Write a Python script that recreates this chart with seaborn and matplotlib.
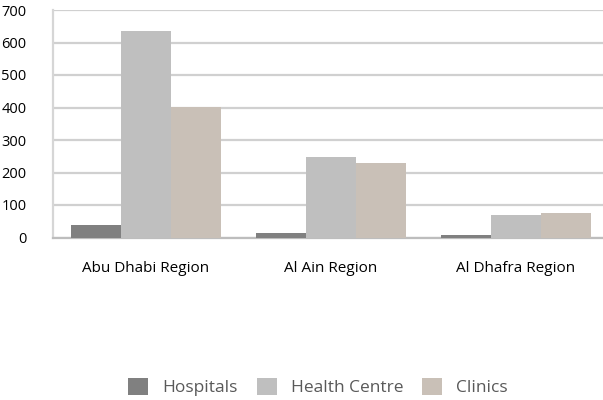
import matplotlib
matplotlib.use("Agg")
import matplotlib.pyplot as plt
from matplotlib.patches import Patch
import pandas as pd
import seaborn as sns

# ==================== DATA ====================
regions = ["Abu Dhabi Region", "Al Ain Region", "Al Dhafra Region"]
facility_types = ["Hospitals", "Health Centre", "Clinics"]
hospitals = [40, 14, 7]
health_centres = [635, 247, 70]
clinics = [402, 229, 75]
colors = ["#808080", "#bfbfbf", "#c9c0b7"]

df = pd.DataFrame({
    "region": regions * 3,
    "type": [t for t in facility_types for _ in regions],
    "count": hospitals + health_centres + clinics,
})

# ==================== PLOT ====================
sns.set_style("white")
plt.rcParams["font.family"] = ["Open Sans", "DejaVu Sans"]

fig = plt.figure(figsize=(6.03, 4.0), dpi=100)
ax = fig.add_axes([53 / 603, (400 - 237.5) / 400, 555.5 / 603, 227.5 / 400])

sns.barplot(data=df, x="region", y="count", hue="type", hue_order=facility_types,
            palette=colors, width=0.81, gap=0, saturation=1, ax=ax,
            edgecolor="none", linewidth=0, legend=False, zorder=3)

ax.set_ylim(0, 700)
ax.set_xlim(-0.5, 2.5)
ax.set_yticks(range(0, 701, 100))
ax.set_xlabel("")
ax.set_ylabel("")

ax.yaxis.grid(True, color="#d0d0d0", linewidth=1.6, zorder=0)
ax.set_axisbelow(True)
for side in ["top", "right"]:
    ax.spines[side].set_visible(False)
ax.spines["left"].set_color("#d6d6d6")
ax.spines["left"].set_linewidth(1.6)
ax.spines["bottom"].set_color("#bdbdbd")
ax.spines["bottom"].set_linewidth(1.6)

ax.tick_params(axis="y", length=11, width=1.6, color="#d0d0d0", pad=8,
               labelsize=10.5, labelcolor="#000000")
ax.tick_params(axis="x", length=8, width=1, color="#d0d0d0", pad=9,
               labelsize=11, labelcolor="#000000")

handles = [Patch(facecolor=c, edgecolor="none") for c in colors]
fig.legend(handles, facility_types, loc="center", bbox_to_anchor=(318 / 603, (400 - 387) / 400),
           ncol=3, frameon=False, fontsize=12.5, labelcolor="#595959",
           handlelength=1.15, handleheight=1.15, handletextpad=0.8, columnspacing=1.1)

fig.savefig("out.png", dpi=100)
